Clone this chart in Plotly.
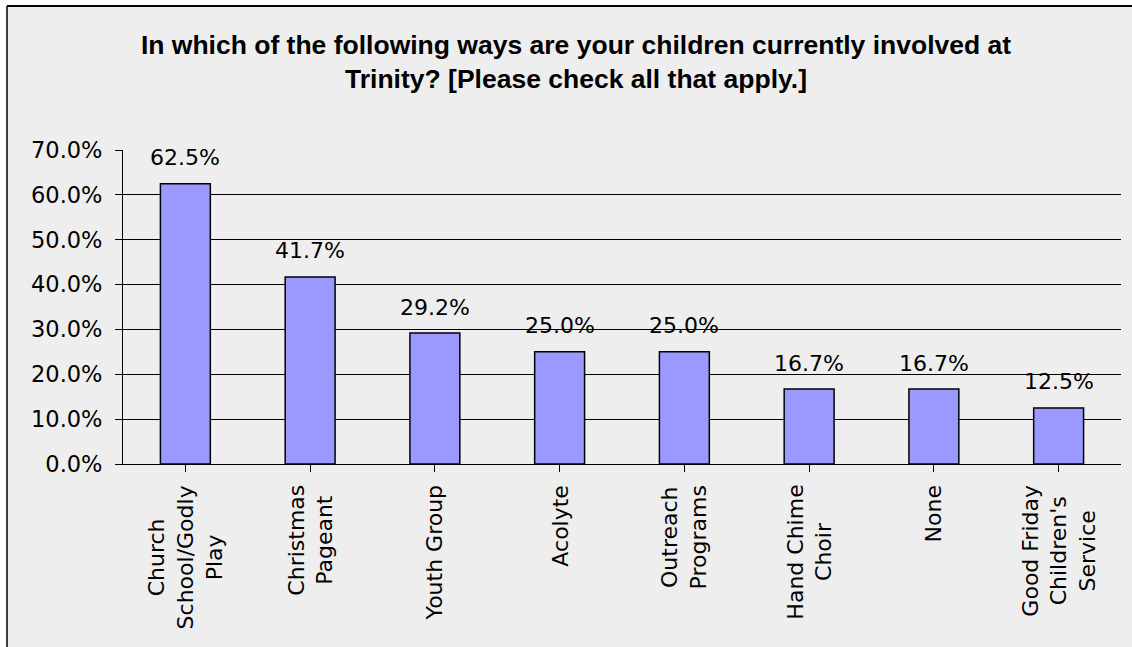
import plotly.graph_objects as go

categories = ["Church<br>School/Godly<br>Play", "Christmas<br>Pageant", "Youth Group", "Acolyte",
              "Outreach<br>Programs", "Hand Chime<br>Choir", "None", "Good Friday<br>Children's<br>Service"]
values = [62.5, 41.7, 29.2, 25.0, 25.0, 16.7, 16.7, 12.5]
y_ticks = [0, 10, 20, 30, 40, 50, 60, 70]
title_text = ("In which of the following ways are your children currently involved at<br>"
              "Trinity? [Please check all that apply.]")

W, H = 1132, 647
ML, MR, MT, MB = 123, 11, 150, 183
PW = W - ML - MR
PH = H - MT - MB

def px_x(x):
    return (x - ML) / PW

def px_y(y):
    return (H - MB - y) / PH

FONT = "DejaVu Sans"
x_idx = list(range(len(categories)))

fig = go.Figure()
fig.add_trace(go.Bar(
    x=x_idx, y=values,
    marker=dict(color="#9999FF", line=dict(color="black", width=1.5)),
    hoverinfo="skip",
))

annotations = []
for i, v in zip(x_idx, values):
    annotations.append(dict(
        x=i, y=v, xref="x", yref="y", text=f"{v:.1f}%", showarrow=False,
        yanchor="middle", xanchor="center", yshift=26,
        font=dict(family=FONT, size=22, color="black"),
    ))
for i, c in zip(x_idx, categories):
    annotations.append(dict(
        x=i, y=px_y(483), xref="x", yref="paper", text=c, showarrow=False,
        textangle=-90, yanchor="top", xanchor="center", align="center",
        font=dict(family=FONT, size=22, color="black"),
    ))

fig.update_layout(
    width=W, height=H,
    margin=dict(l=ML, r=MR, t=MT, b=MB, pad=0),
    paper_bgcolor="#EEEEEE",
    plot_bgcolor="rgba(0,0,0,0)",
    showlegend=False,
    bargap=0.6,
    title=dict(
        text=title_text, x=576 / W, xanchor="center", y=1 - 54 / H, yanchor="middle",
        font=dict(family="Liberation Sans", size=26.5, color="black", weight="bold"),
    ),
    shapes=[
        dict(type="rect", xref="paper", yref="paper", layer="below",
             x0=px_x(-20), x1=px_x(W + 20), y0=px_y(6), y1=px_y(-20),
             fillcolor="white", line=dict(width=0)),
        dict(type="rect", xref="paper", yref="paper", layer="below",
             x0=px_x(-20), x1=px_x(7), y0=px_y(H + 20), y1=px_y(-20),
             fillcolor="white", line=dict(width=0)),
        dict(type="line", xref="paper", yref="paper", layer="below",
             x0=px_x(7), x1=px_x(W + 50), y0=px_y(6), y1=px_y(6),
             line=dict(color="black", width=2)),
        dict(type="line", xref="paper", yref="paper", layer="below",
             x0=px_x(7), x1=px_x(7), y0=px_y(6), y1=px_y(H + 50),
             line=dict(color="black", width=1.5)),
    ],
    annotations=annotations,
    xaxis=dict(
        range=[-0.5, len(categories) - 0.5],
        tickmode="array", tickvals=x_idx, ticktext=[""] * len(categories),
        showticklabels=False, tickson="boundaries", ticks="outside", ticklen=7,
        tickcolor="black", showline=True, linecolor="black", linewidth=1,
        showgrid=False, zeroline=False, fixedrange=True,
    ),
    yaxis=dict(
        range=[0, 70], tickmode="array", tickvals=y_ticks,
        ticktext=[f"{t:.1f}%" for t in y_ticks],
        ticks="outside", ticklen=7, tickcolor="black", ticklabelstandoff=8,
        showline=True, linecolor="black", linewidth=1,
        showgrid=True, gridcolor="black", gridwidth=1, zeroline=False,
        tickfont=dict(family=FONT, size=22.5, color="black"), fixedrange=True,
    ),
)

fig.write_html("out.html")
